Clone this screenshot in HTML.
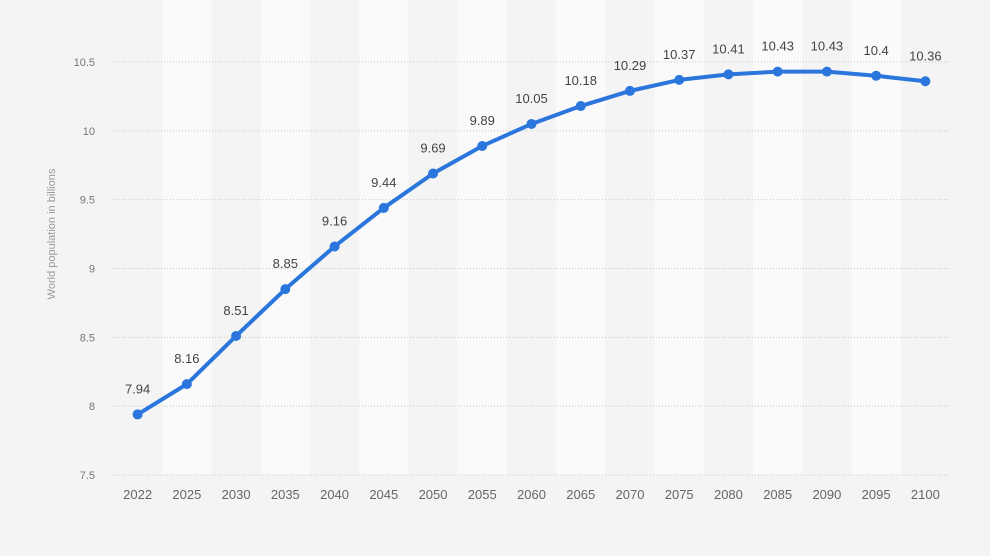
<!DOCTYPE html>
<html><head><meta charset="utf-8"><style>
body{margin:0;background:#f4f4f4;}
svg{display:block;font-family:"Liberation Sans",Arial,sans-serif;}
</style></head><body>
<svg id="chart" width="990" height="556" viewBox="0 0 990 556" xmlns="http://www.w3.org/2000/svg">
<rect width="990" height="556" fill="#f4f4f4"/>
<g id="bands"></g><g id="grid"></g><g id="yticks"></g><g id="xticks"></g><g id="series"></g><g id="labels"></g>
<text transform="translate(55,234) rotate(-90)" text-anchor="middle" font-size="11" fill="#999">World population in billions</text>
</svg>
<script>
const categories=["2022","2025","2030","2035","2040","2045","2050","2055","2060","2065","2070","2075","2080","2085","2090","2095","2100"];
const values=[7.94,8.16,8.51,8.85,9.16,9.44,9.69,9.89,10.05,10.18,10.29,10.37,10.41,10.43,10.43,10.4,10.36];
const yTicks=[7.5,8,8.5,9,9.5,10,10.5];
const yTickLabels=["7.5","8","8.5","9","9.5","10","10.5"];
const NS="http://www.w3.org/2000/svg";
const L=113,R=950,bw=(R-L)/categories.length;
const x=i=>L+bw*(i+0.5);
const y=v=>475-(v-7.5)/3*413;
function mk(t,a,p){const e=document.createElementNS(NS,t);for(const k in a)e.setAttribute(k,a[k]);document.getElementById(p).appendChild(e);return e;}
categories.forEach((c,i)=>{
 if(i%2===1){const b=mk('rect',{x:L+bw*i,y:0,width:bw,height:475,fill:'#fafafa'},'bands');
 
 }
 const t=mk('text',{x:x(i),y:499,'text-anchor':'middle','font-size':13,fill:'#666'},'xticks');t.textContent=c;
 
 
});
yTicks.forEach((v,i)=>{
 const g=mk('line',{x1:L,x2:R,y1:y(v),y2:y(v),stroke:'#c8c8c8','stroke-dasharray':'1,2'},'grid');
 
 
 const t=mk('text',{x:95,y:y(v)+4,'text-anchor':'end','font-size':11,fill:'#777'},'yticks');t.textContent=yTickLabels[i];
 
 
});
const pl=mk('polyline',{points:values.map((v,i)=>x(i)+','+y(v)).join(' '),fill:'none',stroke:'#2a76dd','stroke-width':4,'stroke-linejoin':'round','stroke-linecap':'round'},'series');


values.forEach((v,i)=>{
 const c=mk('circle',{cx:x(i),cy:y(v),r:5,fill:'#2a76dd'},'series');
 
 
 const t=mk('text',{x:x(i),y:y(v)-21,'text-anchor':'middle','font-size':13,fill:'#444'},'labels');t.textContent=String(v);
 
 
});
</script>
</body></html>
